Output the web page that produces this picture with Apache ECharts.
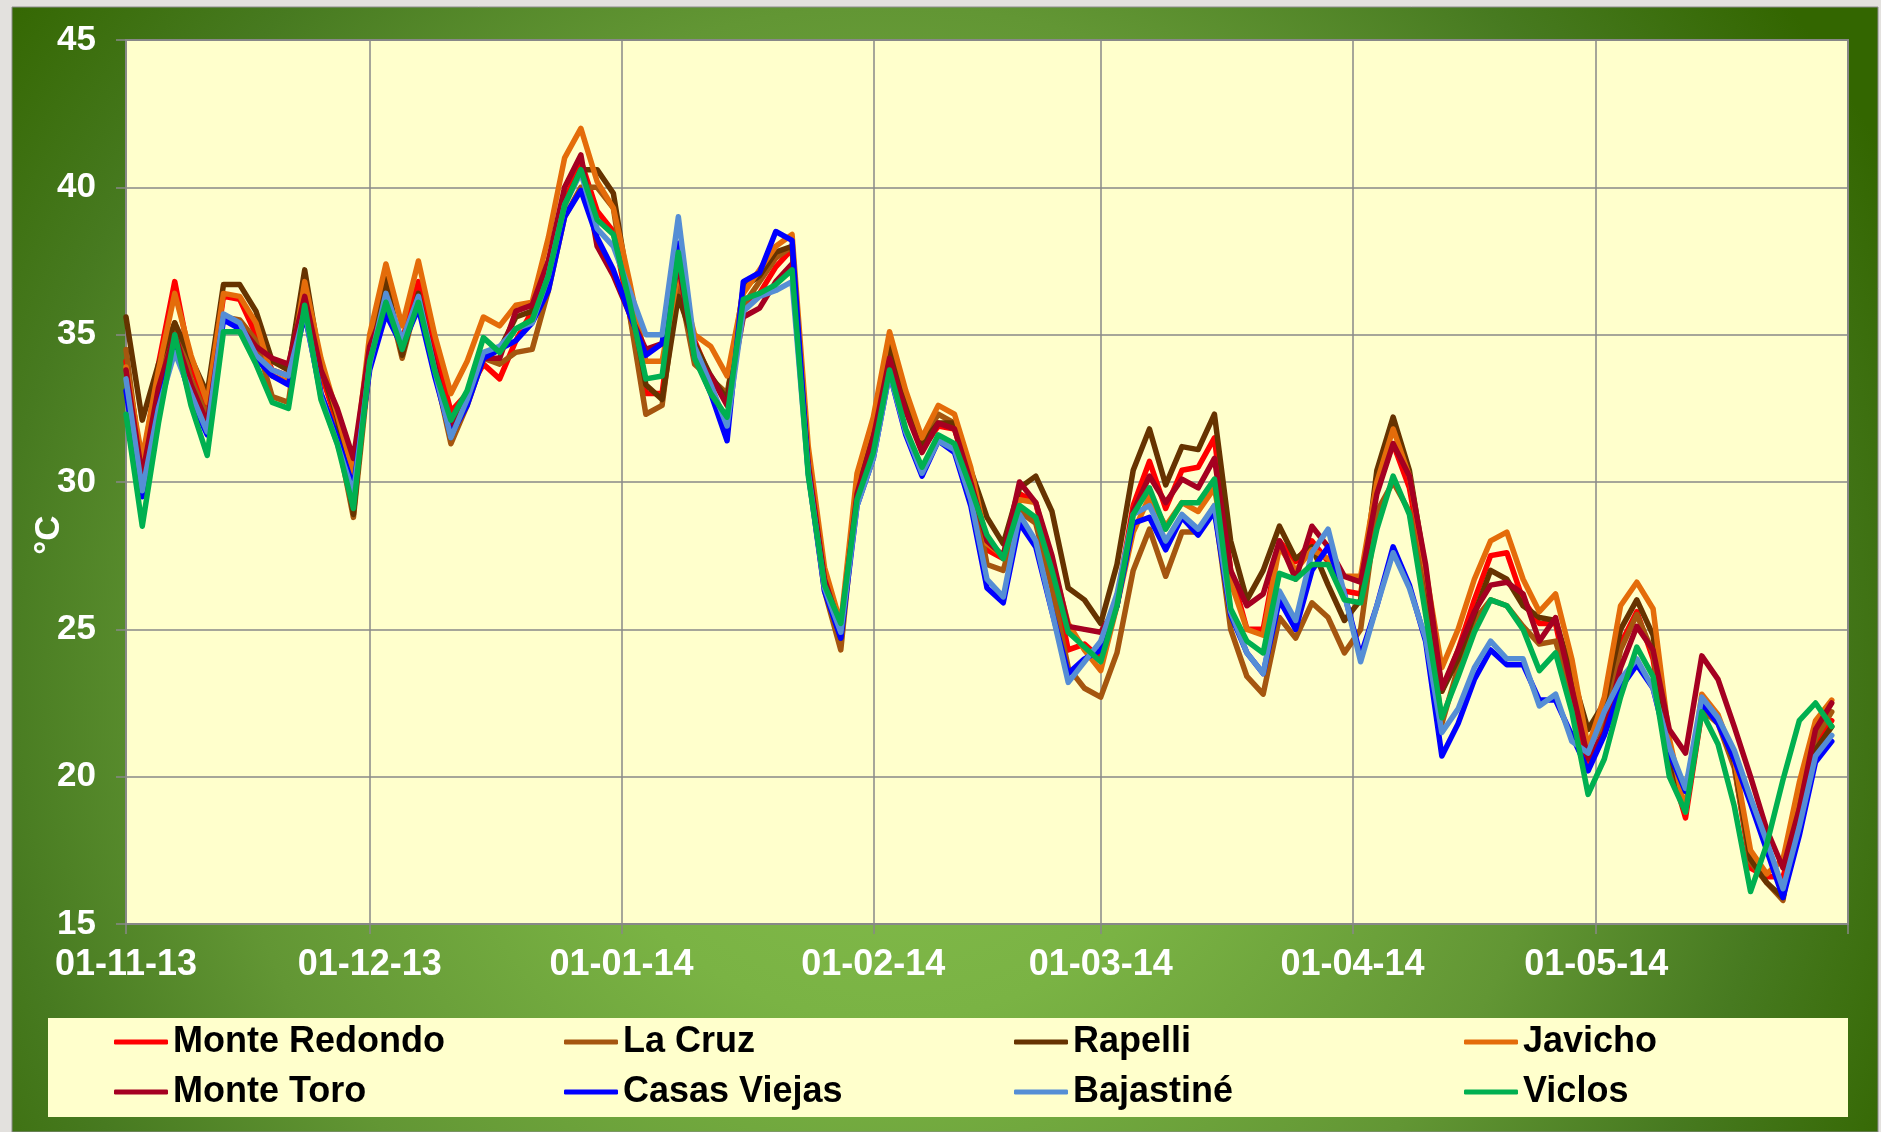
<!DOCTYPE html>
<html>
<head>
<meta charset="utf-8">
<title>Temperaturas</title>
<script src="https://cdn.jsdelivr.net/npm/echarts@6/dist/echarts.min.js"></script>
<style>
  html, body { margin: 0; padding: 0; background: #e3e1de; }
  #chart { width: 1881px; height: 1132px; }
</style>
</head>
<body>
<div id="chart"></div>
<script>
// readings every second day, 01-11-13 .. 30-05-14
const dates = [
  '2013-11-01','2013-11-03','2013-11-05','2013-11-07','2013-11-09','2013-11-11','2013-11-13','2013-11-15','2013-11-17','2013-11-19','2013-11-21','2013-11-23','2013-11-25','2013-11-27','2013-11-29',
  '2013-12-01','2013-12-03','2013-12-05','2013-12-07','2013-12-09','2013-12-11','2013-12-13','2013-12-15','2013-12-17','2013-12-19','2013-12-21','2013-12-23','2013-12-25','2013-12-27','2013-12-29','2013-12-31',
  '2014-01-02','2014-01-04','2014-01-06','2014-01-08','2014-01-10','2014-01-12','2014-01-14','2014-01-16','2014-01-18','2014-01-20','2014-01-22','2014-01-24','2014-01-26','2014-01-28','2014-01-30',
  '2014-02-01','2014-02-03','2014-02-05','2014-02-07','2014-02-09','2014-02-11','2014-02-13','2014-02-15','2014-02-17','2014-02-19','2014-02-21','2014-02-23','2014-02-25','2014-02-27',
  '2014-03-01','2014-03-03','2014-03-05','2014-03-07','2014-03-09','2014-03-11','2014-03-13','2014-03-15','2014-03-17','2014-03-19','2014-03-21','2014-03-23','2014-03-25','2014-03-27','2014-03-29','2014-03-31',
  '2014-04-02','2014-04-04','2014-04-06','2014-04-08','2014-04-10','2014-04-12','2014-04-14','2014-04-16','2014-04-18','2014-04-20','2014-04-22','2014-04-24','2014-04-26','2014-04-28','2014-04-30',
  '2014-05-02','2014-05-04','2014-05-06','2014-05-08','2014-05-10','2014-05-12','2014-05-14','2014-05-16','2014-05-18','2014-05-20','2014-05-22','2014-05-24','2014-05-26','2014-05-28','2014-05-30'
];

const monteRedondo = [
  34.1,30.5,34.0,36.8,34.0,32.5,36.3,36.2,35.0,33.8,33.6,36.3,33.7,32.0,30.1,
  34.6,36.2,34.8,36.8,34.5,32.4,33.0,34.0,33.5,34.8,35.8,37.5,39.5,40.9,39.2,38.5,
  35.7,33.0,33.0,37.4,34.8,33.5,32.9,36.0,36.4,37.3,37.9,30.8,26.8,25.0,29.8,
  31.8,34.7,32.6,31.1,31.9,31.8,30.0,27.7,27.4,29.6,29.3,27.0,24.3,24.5,
  24.0,26.0,29.2,30.7,29.1,30.4,30.5,31.5,27.0,25.0,25.0,28.0,27.3,28.0,27.3,26.3,
  26.2,29.8,31.3,29.8,26.8,22.9,24.3,26.0,27.5,27.6,26.0,25.2,25.2,22.6,20.3,
  21.5,24.5,25.6,24.0,20.5,18.6,22.2,21.9,20.4,16.9,16.6,16.6,18.4,21.1,21.9
];
const laCruz = [
  34.5,30.2,33.5,35.4,33.5,32.2,35.6,35.5,34.8,32.9,32.7,36.6,33.0,31.6,28.8,
  34.0,36.5,34.2,36.3,33.8,31.3,32.6,34.2,34.0,34.4,34.5,36.5,39.0,40.0,40.0,39.3,
  35.7,32.3,32.6,36.8,34.0,33.5,33.0,36.0,36.8,37.6,38.0,30.5,26.3,24.3,29.7,
  31.7,34.8,32.9,31.4,32.3,32.0,30.2,27.2,27.0,29.0,28.6,26.4,23.7,23.0,
  22.7,24.2,27.0,28.4,26.8,28.3,28.3,29.2,25.0,23.4,22.8,25.4,24.7,25.9,25.4,24.2,
  25.0,29.0,30.0,29.0,26.2,21.8,23.7,25.3,26.0,25.8,25.1,24.5,24.6,22.8,21.0,
  21.8,24.3,25.5,24.2,20.5,18.9,22.3,21.8,20.3,17.1,16.4,15.8,19.2,21.3,22.2
];
const rapelli = [
  35.6,32.1,34.0,35.4,34.2,33.0,36.7,36.7,35.8,34.1,33.8,37.2,33.9,32.2,28.9,
  34.5,36.9,34.3,36.4,33.8,31.5,32.8,34.2,34.5,35.6,35.8,37.2,39.4,40.6,40.6,39.8,
  36.4,33.3,32.8,36.3,34.7,33.6,32.8,36.6,37.0,37.8,38.0,30.8,26.5,24.7,29.8,
  31.6,34.6,32.6,31.3,32.0,32.0,30.4,28.8,27.9,29.8,30.2,29.0,26.4,26.0,
  25.2,27.2,30.4,31.8,29.9,31.2,31.1,32.3,28.0,26.0,27.0,28.5,27.4,27.8,26.5,25.3,
  26.0,30.4,32.2,30.4,27.0,22.9,24.0,25.5,27.0,26.7,25.8,25.4,25.3,23.5,21.6,
  22.5,25.0,26.0,24.8,20.8,18.9,22.4,22.0,20.5,17.2,16.4,15.9,18.8,20.9,21.7
];
const javicho = [
  33.9,30.8,33.8,36.4,34.3,32.7,36.4,36.3,35.4,33.6,33.4,36.8,34.2,32.3,30.3,
  35.0,37.4,35.3,37.5,35.0,33.0,34.1,35.6,35.3,36.0,36.1,38.3,41.0,42.0,40.2,39.3,
  36.8,34.1,34.1,37.1,35.0,34.6,33.6,36.4,37.2,38.0,38.4,31.2,27.1,25.2,30.3,
  32.2,35.1,33.1,31.5,32.6,32.3,30.5,27.9,27.5,29.4,29.3,27.3,25.2,24.3,
  23.6,25.8,28.3,29.5,28.5,29.3,29.0,29.8,26.6,25.0,24.8,27.8,27.0,27.7,27.4,26.8,
  26.8,30.0,31.8,30.2,27.0,23.7,25.0,26.7,28.0,28.3,26.7,25.6,26.2,24.0,21.0,
  22.7,25.8,26.6,25.7,21.3,18.8,22.8,22.1,20.6,17.5,16.7,17.2,19.8,21.9,22.6
];
const monteToro = [
  33.8,30.2,33.2,35.0,33.3,32.0,35.6,35.3,34.6,34.2,34.0,36.3,33.8,32.5,30.8,
  34.6,36.0,34.5,36.2,34.0,31.8,33.0,34.2,34.2,35.8,36.0,37.5,40.0,41.1,38.0,37.0,
  35.7,34.5,34.7,37.4,34.3,33.6,32.6,35.6,35.9,36.8,37.4,30.6,26.7,25.0,29.6,
  31.5,34.2,32.4,31.0,32.0,31.8,30.0,28.0,27.5,30.0,29.3,27.5,25.1,25.0,
  24.9,25.8,29.0,30.2,29.3,30.1,29.8,30.8,27.0,25.8,26.2,28.0,26.7,28.5,27.8,26.8,
  26.6,29.6,31.3,30.2,27.2,23.0,24.3,25.6,26.5,26.6,26.2,24.6,25.4,23.0,20.6,
  21.5,23.7,25.1,24.3,21.6,20.8,24.1,23.3,21.7,20.0,18.2,16.9,18.9,21.6,22.5
];
const casasViejas = [
  33.1,29.5,32.5,34.7,32.8,31.6,35.5,35.2,34.2,33.6,33.3,35.7,33.0,31.5,29.8,
  33.8,35.7,34.6,35.9,33.6,31.6,32.6,34.2,34.5,34.8,35.4,36.5,39.0,39.9,38.3,37.2,
  35.7,34.3,34.7,38.1,34.3,33.0,31.4,36.8,37.1,38.5,38.2,30.3,26.3,24.7,29.2,
  30.8,33.7,31.6,30.2,31.4,31.0,29.2,26.4,25.9,28.6,27.8,25.6,23.5,24.0,
  24.3,25.8,28.6,28.8,27.7,28.8,28.2,29.0,25.5,24.2,23.5,26.0,25.0,27.0,27.8,26.2,
  24.1,25.8,27.8,26.5,24.6,20.7,21.8,23.3,24.3,23.8,23.8,22.6,22.6,21.4,20.2,
  21.4,23.0,23.8,23.0,20.8,19.5,22.5,21.8,20.6,19.1,17.5,15.9,18.0,20.5,21.2
];
const bajastine = [
  33.5,29.7,32.5,34.4,33.0,31.7,35.7,35.4,34.3,33.8,33.6,35.8,32.9,31.3,29.6,
  34.0,36.4,34.8,36.3,33.8,31.5,32.8,34.4,34.6,35.2,35.4,37.0,39.4,40.5,38.6,38.0,
  36.5,35.0,35.0,39.0,34.6,33.3,31.9,35.8,36.3,36.5,36.8,30.3,26.4,24.9,29.2,
  30.8,33.7,31.7,30.3,31.4,31.1,29.4,26.7,26.1,28.9,28.0,25.6,23.2,23.9,
  24.6,26.2,28.9,29.2,28.0,28.9,28.4,29.2,25.6,24.2,23.5,26.3,25.3,27.6,28.4,26.2,
  23.9,25.8,27.6,26.4,24.7,21.5,22.3,23.7,24.6,24.0,24.0,22.4,22.8,21.2,20.8,
  22.2,23.3,24.0,23.0,21.0,19.6,22.7,22.0,20.9,19.3,17.8,16.2,18.3,20.7,21.4
];
const viclos = [
  32.3,28.5,32.0,35.0,32.6,30.9,35.1,35.1,34.0,32.7,32.5,36.0,32.8,31.3,29.1,
  34.1,36.1,34.5,36.1,33.8,32.1,33.1,34.9,34.4,35.2,35.5,37.0,39.4,40.6,38.9,38.4,
  36.1,33.5,33.6,37.8,34.2,33.0,32.2,36.2,36.4,36.7,37.2,30.2,26.5,25.2,29.4,
  31.0,33.8,31.8,30.5,31.6,31.3,29.8,28.2,27.4,29.2,28.8,27.0,24.9,24.4,
  23.9,25.8,28.9,29.8,28.4,29.3,29.3,30.1,25.7,24.6,24.2,26.9,26.7,27.2,27.2,26.0,
  25.9,28.4,30.2,28.9,25.5,22.0,23.4,24.9,26.0,25.8,25.0,23.6,24.2,22.2,19.4,
  20.6,22.7,24.4,23.4,20.0,18.8,22.2,21.1,19.0,16.1,17.7,19.9,21.9,22.5,21.7
];

// month ticks on the x axis (last one has no label)
const tickDates = ['2013-11-01','2013-12-01','2014-01-01','2014-02-01','2014-03-01','2014-04-01','2014-05-01','2014-06-01'];
const labelDates = ['2013-11-01','2013-12-01','2014-01-01','2014-02-01','2014-03-01','2014-04-01','2014-05-01'];

const font = '"Liberation Sans", Arial, sans-serif';

function ts(s) {
  const p = s.split('-');
  return Date.UTC(+p[0], +p[1] - 1, +p[2]);
}
function pad(n) { return (n < 10 ? '0' : '') + n; }

let stations = [
  {name: 'Monte Redondo', color: '#FF0000', values: monteRedondo},
  {name: 'La Cruz', color: '#A5560F', values: laCruz},
  {name: 'Rapelli', color: '#663300', values: rapelli},
  {name: 'Javicho', color: '#E46C0A', values: javicho},
  {name: 'Monte Toro', color: '#A50021', values: monteToro},
  {name: 'Casas Viejas', color: '#0000FF', values: casasViejas},
  {name: 'Bajastiné', color: '#558ED5', values: bajastine},
  {name: 'Viclos', color: '#00B050', values: viclos}
];

const legendLeft = [114, 564, 1014, 1464];

let myChart = echarts.init(document.getElementById('chart'));

let option = {
  animation: false,
  graphic: [
    {
      type: 'rect', z: -10, silent: true,
      shape: {x: 12, y: 7, width: 1866, height: 1125},
      style: {
        fill: new echarts.graphic.RadialGradient(0.47, 0.6, 1.0, [
          {offset: 0, color: '#86be4e'},
          {offset: 0.3, color: '#7ab344'},
          {offset: 0.6, color: '#629634'},
          {offset: 0.8, color: '#477a20'},
          {offset: 1, color: '#336600'}
        ]),
        stroke: '#8c8c8c', lineWidth: 1
      }
    },
    {
      type: 'rect', z: -5, silent: true,
      shape: {x: 48, y: 1018, width: 1800, height: 99},
      style: {fill: '#FFFFCC'}
    },
    {
      type: 'text', z: 5, x: 49, y: 535, rotation: Math.PI / 2,
      style: {
        text: '°C', fill: '#ffffff', font: 'bold 35px ' + font,
        align: 'center', verticalAlign: 'middle'
      }
    }
  ],
  grid: {
    left: 126, right: 33, top: 40, bottom: 208,
    show: true, backgroundColor: '#FFFFCC',
    borderColor: '#888888', borderWidth: 2
  },
  legend: legendLeft.map((x, i) => ({
    left: x, top: 1022, orient: 'vertical', padding: 0,
    itemGap: 10, itemWidth: 54, itemHeight: 5, icon: 'roundRect',
    selectedMode: false,
    data: [stations[i].name, stations[i + 4].name],
    textStyle: {color: '#000', fontWeight: 'bold', fontSize: 36, fontFamily: font, lineHeight: 40}
  })),
  xAxis: {
    type: 'value',
    min: ts('2013-11-01'),
    max: ts('2014-06-01'),
    axisLine: {show: true, lineStyle: {color: '#888888', width: 2}},
    axisTick: {show: true, length: 10, lineStyle: {color: '#888888', width: 1.5},
      customValues: tickDates.map(ts)},
    axisLabel: {
      customValues: labelDates.map(ts),
      color: '#ffffff', fontWeight: 'bold', fontSize: 36, fontFamily: font, margin: 23,
      formatter: function (v) {
        const d = new Date(v);
        return pad(d.getUTCDate()) + '-' + pad(d.getUTCMonth() + 1) + '-' + String(d.getUTCFullYear()).slice(2);
      }
    },
    splitLine: {show: true, lineStyle: {color: '#888888', width: 1.5}}
  },
  yAxis: {
    type: 'value',
    min: 15, max: 45, interval: 5,
    axisLine: {show: true, lineStyle: {color: '#888888', width: 2}},
    axisTick: {show: true, length: 10, lineStyle: {color: '#888888', width: 1.5}},
    axisLabel: {color: '#ffffff', fontWeight: 'bold', fontSize: 35, fontFamily: font, margin: 30},
    splitLine: {show: true, lineStyle: {color: '#888888', width: 1.5}}
  },
  series: stations.map(s => ({
    name: s.name,
    type: 'line',
    symbol: 'none',
    showSymbol: false,
    color: s.color,
    itemStyle: {color: s.color},
    lineStyle: {color: s.color, width: 5.5, cap: 'round', join: 'round'},
    data: dates.map((d, i) => [ts(d), s.values[i]])
  }))
};

myChart.setOption(option);
</script>
</body>
</html>
